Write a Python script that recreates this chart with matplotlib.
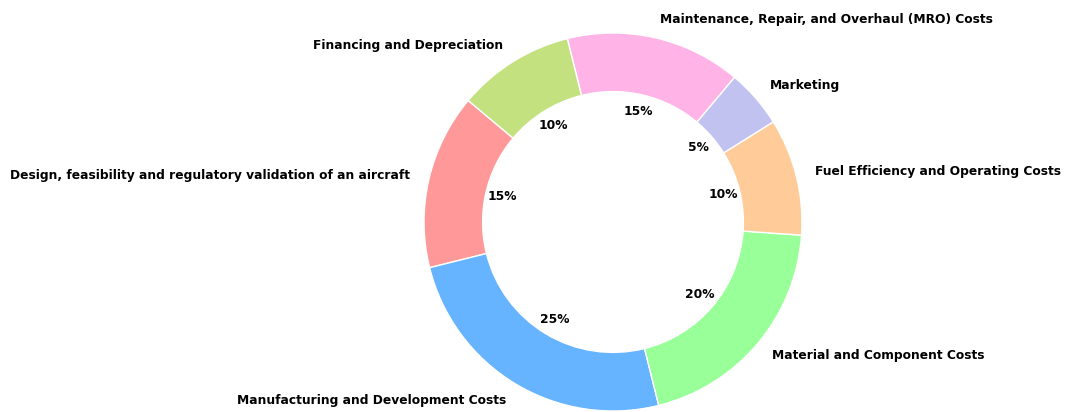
import matplotlib.pyplot as plt

labels = ['Design, feasibility and regulatory validation of an aircraft',
          'Manufacturing and Development Costs',
          'Material and Component Costs',
          'Fuel Efficiency and Operating Costs',
          'Marketing',
          'Maintenance, Repair, and Overhaul (MRO) Costs',
          'Financing and Depreciation']
shares = [15, 25, 20, 10, 5, 15, 10]
colors = ['#ff9999', '#66b3ff', '#99ff99', '#ffcc99', '#c2c2f0', '#ffb3e6', '#c4e17f']

fig = plt.figure(figsize=(10.65, 4.12), dpi=100)

# place the pie so its centre / radius match the picture (r ~ 189 px)
r_px, cx, cy = 189, 613, 190
ax = fig.add_axes([(cx - r_px) / 1065, (cy - r_px) / 412, 2 * r_px / 1065, 2 * r_px / 412])

ax.pie(shares, labels=labels, colors=colors, startangle=140,
       autopct='%1.0f%%', pctdistance=0.6, labeldistance=1.1,
       wedgeprops=dict(width=0.31, edgecolor='white', linewidth=1),
       textprops=dict(fontsize=8.85, fontweight='bold'))

ax.set_xlim(-1, 1)
ax.set_ylim(-1, 1)
ax.set_aspect('equal')

fig.savefig('out.png', dpi=100)
